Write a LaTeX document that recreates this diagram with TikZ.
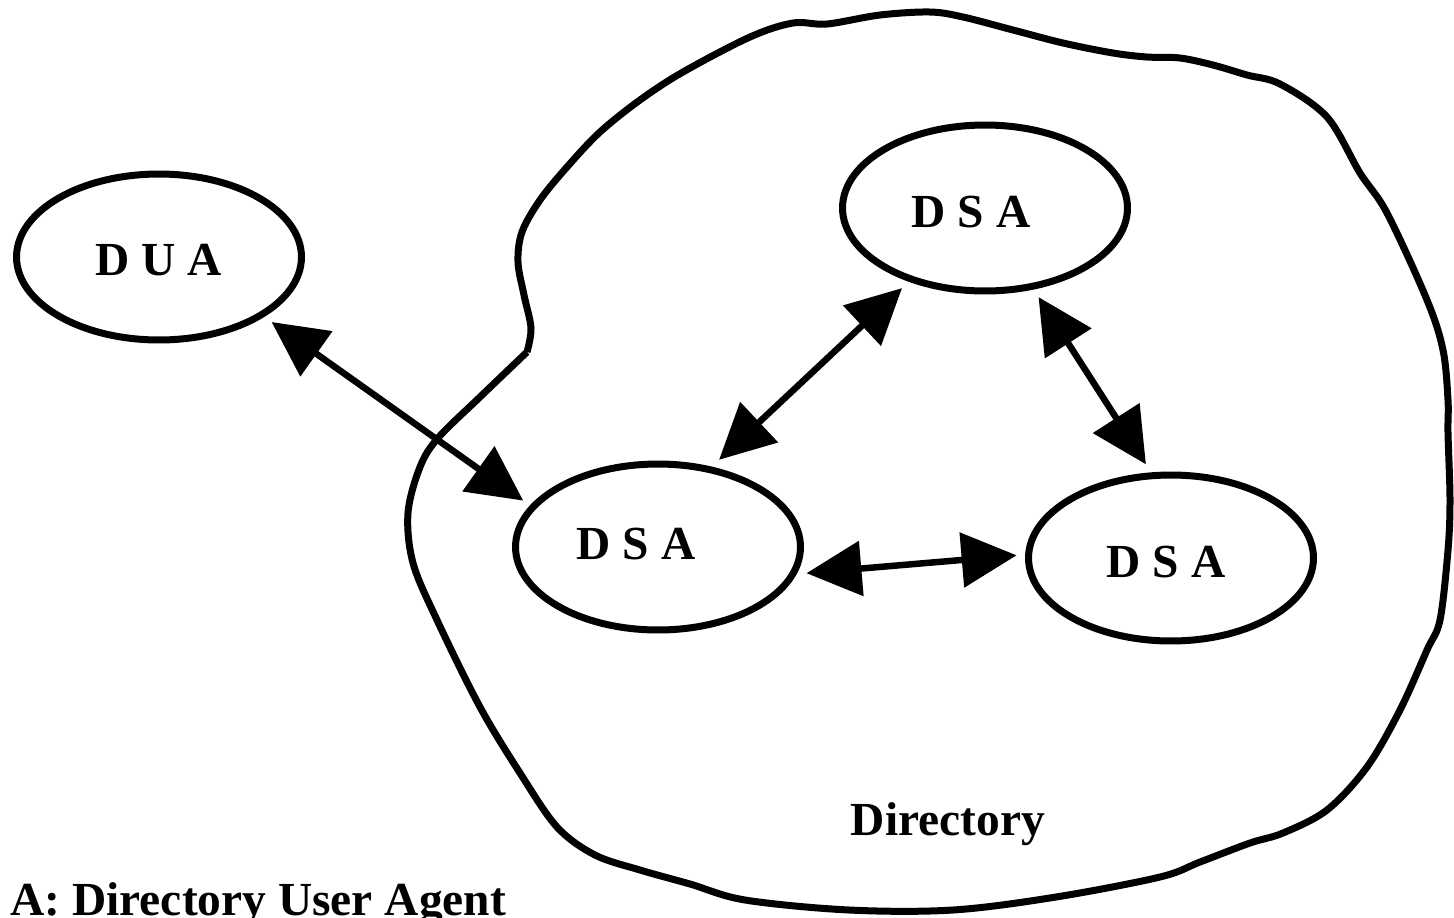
\documentclass[tikz,border=0pt]{standalone}
\usepackage{fontspec}
\setmainfont{Liberation Serif}
\usetikzlibrary{arrows.meta,shapes.geometric}
\tikzset{
  agent/.style={draw,ellipse,line width=0.14cm,
    minimum width=5.7cm,minimum height=3.32cm,inner sep=0pt,outer sep=0.24cm},
  tag/.style={font=\fontsize{27}{30}\selectfont\bfseries,inner sep=0pt},
  link/.style={line width=0.13cm,
    {Triangle[length=1.1cm,width=1.08cm]}-{Triangle[length=1.1cm,width=1.08cm]}},
  cloud/.style={line width=0.14cm,line join=round},
}
\begin{document}
\begin{tikzpicture}[x=0.02cm,y=-0.02cm]
  \useasboundingbox (0,0) rectangle (1454,917);
  \draw[cloud] plot[smooth,tension=0.55] coordinates {
    (527,352) (531,328) (524,295) (518,262) (522,232) (540,200) (567,167)
    (600,132) (640,100) (683,72) (750,37) (793,23) (827,24) (880,15)
    (930,12) (963,17) (1013,30) (1063,43) (1113,53) (1147,57) (1180,58)
    (1213,65) (1247,75) (1280,84) (1327,117) (1360,173) (1387,213)
    (1427,300) (1443,350) (1448,400) (1448,433) (1450,500) (1448,550)
    (1440,620) (1427,650) (1400,710) (1367,767) (1327,810) (1283,833)
    (1250,843) (1200,862) (1160,877) (1056,897) (953,910) (849,910)
    (745,900) (690,884) (640,870) (595,855) (557,827) (520,773) (480,707)
    (437,620) (413,563) (408,513) (420,467) (438,438) (480,397) (527,352)};
  \node[agent] (dua) at (159,257) {};
  \node[agent] (dsa1) at (658,547) {};
  \node[agent] (dsa2) at (985,208) {};
  \node[agent] (dsa3) at (1171,558) {};
  \node[tag] (duat) at (159,260) {D U A};
  \node[tag] (dsa1t) at (636,544) {D S A};
  \node[tag] (dsa2t) at (971,212) {D S A};
  \node[tag] (dsa3t) at (1166,562) {D S A};
  \draw[link] (dua.-30) -- (dsa1.161);
  \draw[link] (dsa2.-136) -- (dsa1.55);
  \draw[link] (dsa2.-59) -- (dsa3.105);
  \draw[link] (dsa1.-10) -- (dsa3.179);
  \node[tag,anchor=base] (dir) at (948,835) {Directory};
  \node[tag,anchor=base west] (key) at (10,915) {A: Directory User Agent};
\end{tikzpicture}
\end{document}
